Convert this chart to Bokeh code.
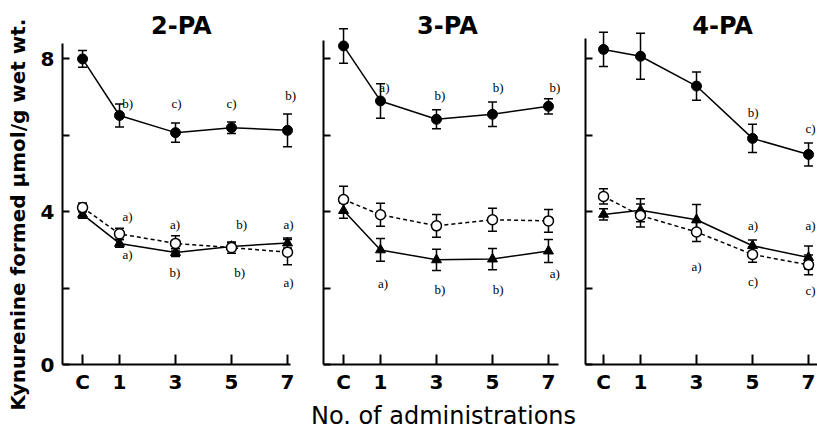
import math
from bokeh.plotting import figure
from bokeh.layouts import row, column
from bokeh.models import (ColumnDataSource, Whisker, TeeHead, FixedTicker,
                          Label, LabelSet)
from bokeh.embed import file_html
from bokeh.resources import INLINE

# ---------------- data ----------------
x_labels = ["C", "1", "3", "5", "7"]
admins = [0, 1, 3, 5, 7]          # 0 = control (C)
panel_titles = ["2-PA", "3-PA", "4-PA"]

pa2_filled = [8.00, 6.52, 6.07, 6.20, 6.13]
pa2_filled_err = [0.22, 0.30, 0.25, 0.15, 0.43]
pa2_open = [4.11, 3.42, 3.17, 3.06, 2.94]
pa2_open_err = [0.12, 0.15, 0.20, 0.15, 0.33]
pa2_tri = [3.93, 3.17, 2.93, 3.09, 3.18]
pa2_tri_err = [0.10, 0.10, 0.10, 0.10, 0.13]

pa3_filled = [8.34, 6.90, 6.42, 6.55, 6.76]
pa3_filled_err = [0.45, 0.45, 0.25, 0.32, 0.20]
pa3_open = [4.32, 3.92, 3.63, 3.79, 3.76]
pa3_open_err = [0.35, 0.30, 0.30, 0.30, 0.30]
pa3_tri = [4.03, 3.00, 2.74, 2.76, 2.97]
pa3_tri_err = [0.20, 0.30, 0.28, 0.28, 0.30]

pa4_filled = [8.25, 8.07, 7.29, 5.92, 5.50]
pa4_filled_err = [0.45, 0.60, 0.37, 0.37, 0.30]
pa4_open = [4.40, 3.90, 3.47, 2.88, 2.61]
pa4_open_err = [0.20, 0.30, 0.25, 0.20, 0.26]
pa4_tri = [3.93, 4.04, 3.79, 3.11, 2.80]
pa4_tri_err = [0.15, 0.30, 0.40, 0.15, 0.30]

# significance marks: (text, x, y) in data units
pa2_marks = [("b)", 1.29, 6.83), ("c)", 3.04, 6.83), ("c)", 5.0, 6.83), ("b)", 7.11, 7.04),
             ("a)", 1.29, 3.87), ("a)", 2.98, 3.66), ("b)", 5.36, 3.66), ("a)", 7.04, 3.66),
             ("a)", 1.29, 2.88), ("b)", 2.98, 2.41), ("b)", 5.29, 2.41), ("a)", 7.04, 2.15)]
pa3_marks = [("a)", 1.14, 7.24), ("b)", 3.12, 7.03), ("b)", 5.2, 7.24), ("b)", 7.23, 7.24),
             ("a)", 1.09, 2.13), ("b)", 3.12, 1.97), ("b)", 5.2, 1.97), ("a)", 7.23, 2.37)]
pa4_marks = [("b)", 5.02, 6.6), ("c)", 7.07, 6.17),
             ("a)", 5.02, 3.64), ("a)", 7.07, 3.64),
             ("a)", 3.0, 2.56), ("c)", 5.02, 2.16), ("c)", 7.07, 1.93)]

y_label = "Kynurenine formed \u03bcmol/g wet wt."
x_label = "No. of administrations"

# ---------------- layout helpers ----------------
CONTROL_X = -0.32
xs = [CONTROL_X if a == 0 else a for a in admins]
WIDE = "DejaVu Sans"
MONO = "Liberation Mono"
Y_END = 9.53
FIG_H = 398
BOTTOM = 34

panels = [
    dict(title=panel_titles[0], filled=pa2_filled, filled_err=pa2_filled_err,
         open=pa2_open, open_err=pa2_open_err, tri=pa2_tri, tri_err=pa2_tri_err,
         marks=pa2_marks, width=270, left=32, xr=(-1.036, 7.464), xb=7.11, yb=8.40, tx=3.21),
    dict(title=panel_titles[1], filled=pa3_filled, filled_err=pa3_filled_err,
         open=pa3_open, open_err=pa3_open_err, tri=pa3_tri, tri_err=pa3_tri_err,
         marks=pa3_marks, width=260, left=23, xr=(-1.036, 7.43), xb=7.36, yb=8.48, tx=3.39),
    dict(title=panel_titles[2], filled=pa4_filled, filled_err=pa4_filled_err,
         open=pa4_open, open_err=pa4_open_err, tri=pa4_tri, tri_err=pa4_tri_err,
         marks=pa4_marks, width=257, left=25, xr=(-0.964, 7.32), xb=7.32, yb=8.53, tx=3.93),
]


def blank_fig(w, h, xr, yr):
    f = figure(width=w, height=h, output_backend="svg", toolbar_location=None,
               x_range=xr, y_range=yr, x_axis_type=None, y_axis_type=None,
               min_border=0)
    f.outline_line_color = None
    f.xgrid.visible = False
    f.ygrid.visible = False
    return f


figs = []
for i, pn in enumerate(panels):
    p = figure(width=pn["width"], height=FIG_H, output_backend="svg", toolbar_location=None,
               x_range=pn["xr"], y_range=(0, Y_END),
               min_border_left=pn["left"], min_border_right=0,
               min_border_top=0, min_border_bottom=BOTTOM)
    p.outline_line_color = None
    p.xgrid.visible = False
    p.ygrid.visible = False

    # axes
    p.xaxis.ticker = FixedTicker(ticks=xs)
    p.xaxis.major_label_overrides = {x: lab for x, lab in zip(xs, x_labels)}
    p.xaxis.bounds = (pn["xr"][0], pn["xb"])
    p.yaxis.ticker = FixedTicker(ticks=[0, 2, 4, 6, 8])
    p.yaxis.bounds = (0, pn["yb"])
    if i == 0:
        p.yaxis.major_label_overrides = {0: "0", 2: "", 4: "4", 6: "", 8: "8"}
    else:
        p.yaxis.major_label_overrides = {0: "", 2: "", 4: "", 6: "", 8: ""}
    for ax in (p.xaxis, p.yaxis):
        ax.axis_line_width = 2
        ax.axis_line_color = "black"
        ax.major_tick_line_width = 2
        ax.major_tick_line_color = "black"
        ax.major_tick_out = 0
        ax.minor_tick_line_color = None
        ax.major_label_text_font = WIDE
        ax.major_label_text_font_style = "bold"
        ax.major_label_text_font_size = "20px"
        ax.major_label_text_color = "black"
    p.xaxis.major_tick_in = 10
    p.yaxis.major_tick_in = 7
    p.xaxis.major_label_standoff = 5
    p.yaxis.major_label_standoff = 8

    # error bars
    for key, ekey in (("filled", "filled_err"), ("open", "open_err"), ("tri", "tri_err")):
        src = ColumnDataSource(dict(
            x=xs,
            upper=[v + e for v, e in zip(pn[key], pn[ekey])],
            lower=[v - e for v, e in zip(pn[key], pn[ekey])]))
        w = Whisker(base="x", upper="upper", lower="lower", source=src,
                    line_width=1.5, line_color="black", level="underlay",
                    upper_head=TeeHead(size=9, line_width=1.5, line_color="black"),
                    lower_head=TeeHead(size=9, line_width=1.5, line_color="black"))
        p.add_layout(w)

    # lines
    p.line(xs, pn["filled"], line_color="black", line_width=1.5)
    p.line(xs, pn["tri"], line_color="black", line_width=1.5)
    p.line(xs, pn["open"], line_color="black", line_width=1.5, line_dash="4 3")

    # markers
    p.scatter(xs, pn["filled"], marker="circle", size=10, fill_color="black", line_color="black")
    p.scatter(xs, pn["tri"], marker="triangle", size=10, fill_color="black", line_color="black")
    p.scatter(xs, pn["open"], marker="circle", size=10, fill_color="white",
              line_color="black", line_width=1.5)

    # significance marks
    msrc = ColumnDataSource(dict(text=[m[0] for m in pn["marks"]],
                                 x=[m[1] for m in pn["marks"]],
                                 y=[m[2] for m in pn["marks"]]))
    p.add_layout(LabelSet(x="x", y="y", text="text", source=msrc,
                          text_font=MONO, text_font_size="13px", text_color="black",
                          text_align="center", text_baseline="middle"))

    # panel title
    p.add_layout(Label(x=pn["tx"], y=8.87, text=pn["title"], text_font=WIDE,
                       text_font_style="bold", text_font_size="24px", text_align="center",
                       text_baseline="middle", text_color="black"))
    figs.append(p)

# y-axis title strip (left) and x-axis title strip (bottom)
ylab_fig = blank_fig(30, 429, (0, 30), (0, 429))
ylab_fig.add_layout(Label(x=17, y=215, text=y_label, angle=math.pi / 2,
                          text_font=WIDE, text_font_style="bold", text_font_size="20px",
                          text_align="center", text_baseline="middle", text_color="black"))

strip_h = 429 - FIG_H
xlab_fig = blank_fig(787, strip_h, (0, 787), (0, strip_h))
xlab_fig.add_layout(Label(x=413, y=14, text=x_label, text_font=WIDE,
                          text_font_size="24px", text_align="center",
                          text_baseline="middle", text_color="black"))

layout = row(ylab_fig, column(row(*figs), xlab_fig))
open("out.html", "w").write(file_html(layout, INLINE))
